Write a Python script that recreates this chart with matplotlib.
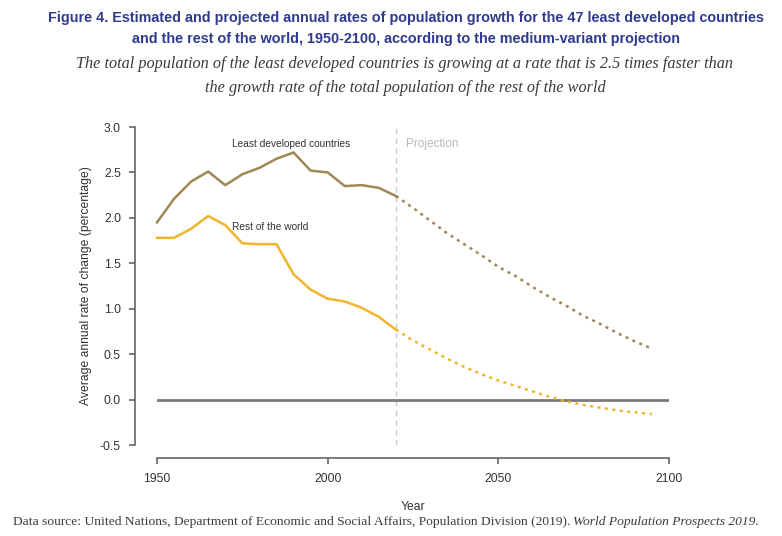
import matplotlib
matplotlib.use("Agg")
import matplotlib.pyplot as plt

plt.rcParams["font.family"] = ["Liberation Sans", "DejaVu Sans"]

# ---- data ----
years_hist = [1950, 1955, 1960, 1965, 1970, 1975, 1980, 1985, 1990, 1995, 2000, 2005, 2010, 2015, 2020]
ldc_hist = [1.95, 2.21, 2.40, 2.51, 2.36, 2.48, 2.55, 2.65, 2.72, 2.52, 2.50, 2.35, 2.36, 2.33, 2.24]
row_hist = [1.78, 1.78, 1.88, 2.02, 1.92, 1.72, 1.71, 1.71, 1.38, 1.21, 1.11, 1.08, 1.01, 0.91, 0.77]

years_proj = [2020, 2025, 2030, 2035, 2040, 2045, 2050, 2055, 2060, 2065, 2070, 2075, 2080, 2085, 2090, 2095]
ldc_proj = [2.24, 2.11, 1.97, 1.83, 1.71, 1.59, 1.46, 1.36, 1.24, 1.13, 1.03, 0.92, 0.83, 0.73, 0.64, 0.56]
row_proj = [0.77, 0.65, 0.55, 0.45, 0.36, 0.28, 0.21, 0.15, 0.09, 0.03, -0.02, -0.06, -0.09, -0.12, -0.14, -0.16]

x_ticks = [1950, 2000, 2050, 2100]
y_ticks = [-0.5, 0.0, 0.5, 1.0, 1.5, 2.0, 2.5, 3.0]

c_ldc = "#9e8854"
c_row = "#f0b52c"

W, H = 782, 536
PX = 0.72  # points per pixel at dpi 100
fig = plt.figure(figsize=(W / 100, H / 100), dpi=100)
fig.patch.set_facecolor("white")

x0, x1 = 157 / W, 669 / W
yb, yt = 1 - 445 / H, 1 - 127 / H
ax = fig.add_axes([x0, yb, x1 - x0, yt - yb])
ax.set_xlim(1950, 2100)
ax.set_ylim(-0.5, 3.0)

ax.plot(years_hist, ldc_hist, color=c_ldc, lw=1.8, solid_joinstyle="round", clip_on=False)
ax.plot(years_hist, row_hist, color=c_row, lw=1.8, solid_joinstyle="round", clip_on=False)
ax.plot(years_proj, ldc_proj, color=c_ldc, lw=1.8, ls=(0, (1.2, 1.8)), clip_on=False)
ax.plot(years_proj, row_proj, color=c_row, lw=1.8, ls=(0, (1.2, 1.8)), clip_on=False)

ax.plot([1950, 2100], [0, 0], color="#7a7a7a", lw=2, zorder=1)
ax.plot([2020, 2020], [-0.5, 3.0], color="#cccccc", lw=1, ls=(0, (4, 3)), zorder=0)

ax.text(1972, 2.81, "Least developed countries", fontsize=7.3, color="#333333", ha="left", va="center")
ax.text(1972, 1.90, "Rest of the world", fontsize=7.3, color="#333333", ha="left", va="center")
ax.text(2023, 2.81, "Projection", fontsize=8.5, color="#b8b8b8", ha="left", va="center")

for s in ["top", "right"]:
    ax.spines[s].set_visible(False)
ax.spines["left"].set_position(("outward", 22 * PX))
ax.spines["bottom"].set_position(("outward", 13 * PX))
for s in ["left", "bottom"]:
    ax.spines[s].set_color("#666666")
    ax.spines[s].set_linewidth(1.2)
ax.set_xticks(x_ticks)
ax.set_xticklabels([str(v) for v in x_ticks])
ax.set_yticks(y_ticks)
ax.set_yticklabels([f"{v:.1f}" for v in y_ticks])
ax.tick_params(axis="both", colors="#666666", labelcolor="#333333", labelsize=8.7, length=6 * PX, width=1.2)
ax.tick_params(axis="x", pad=9 * PX)
ax.tick_params(axis="y", pad=8 * PX)
ax.set_xlabel("Year", fontsize=8.7, color="#333333", labelpad=16 * PX)
ax.set_ylabel("Average annual rate of change (percentage)", fontsize=8.7, color="#333333", labelpad=8 * PX)

title_color = "#2e3b8f"
fig.text(406 / W, 1 - 18 / H, "Figure 4. Estimated and projected annual rates of population growth for the 47 least developed countries",
         ha="center", va="center", fontsize=10.4, fontweight="bold", color=title_color)
fig.text(406 / W, 1 - 39 / H, "and the rest of the world, 1950-2100, according to the medium-variant projection",
         ha="center", va="center", fontsize=10.4, fontweight="bold", color=title_color)
fig.text(405 / W, 1 - 64 / H, "The total population of the least developed countries is growing at a rate that is 2.5 times faster than",
         ha="center", va="center", fontsize=11.7, style="italic", color="#3a3a3a", family="Liberation Serif")
fig.text(405 / W, 1 - 88 / H, "the growth rate of the total population of the rest of the world",
         ha="center", va="center", fontsize=11.7, style="italic", color="#3a3a3a", family="Liberation Serif")
fig.text(13 / W, 1 - 522 / H, "Data source: United Nations, Department of Economic and Social Affairs, Population Division (2019). ",
         ha="left", va="center", fontsize=9.7, color="#3a3a3a", family="Liberation Serif")
fig.text(573 / W, 1 - 522 / H, "World Population Prospects 2019.",
         ha="left", va="center", fontsize=9.7, style="italic", color="#3a3a3a", family="Liberation Serif")

fig.savefig("out.png", dpi=100, facecolor="white")
